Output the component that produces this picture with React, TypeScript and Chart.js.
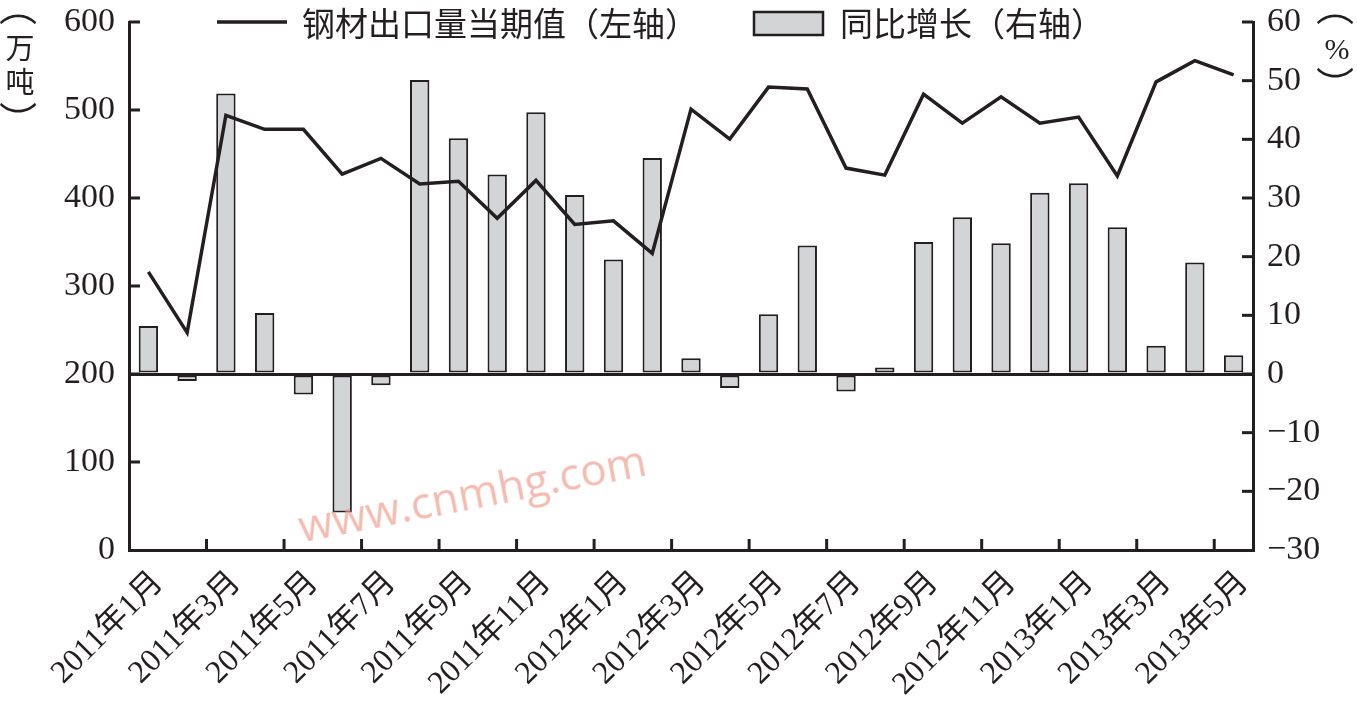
import React, { useEffect, useRef } from 'react';
import { Chart, registerables } from 'chart.js';

Chart.register(...registerables);

const months = [
  '2011年1月', '2011年2月', '2011年3月', '2011年4月', '2011年5月', '2011年6月',
  '2011年7月', '2011年8月', '2011年9月', '2011年10月', '2011年11月', '2011年12月',
  '2012年1月', '2012年2月', '2012年3月', '2012年4月', '2012年5月', '2012年6月',
  '2012年7月', '2012年8月', '2012年9月', '2012年10月', '2012年11月', '2012年12月',
  '2013年1月', '2013年2月', '2013年3月', '2013年4月', '2013年5月',
];

// 钢材出口量当期值（万吨，左轴）
const exportVolume = [
  316, 247, 494, 478, 478, 427, 445, 416, 419, 377, 420, 370, 374, 337,
  501, 467, 526, 524, 434, 426, 518, 485, 515, 485, 492, 425, 532, 556, 540,
];

// 同比增长（%，右轴）
const yoyGrowth = [
  8.2, -1.2, 47.8, 10.4, -3.5, -23.6, -1.9, 50.1, 40.2, 34.0, 44.6, 30.5, 19.5, 36.8,
  2.7, -2.4, 10.2, 21.9, -3.0, 1.1, 22.5, 26.7, 22.3, 30.9, 32.5, 25.0, 4.8, 19.0, 3.2,
];

const lineLabel = '钢材出口量当期值（左轴）';
const barLabel = '同比增长（右轴）';
const leftUnit = ['（', '万', '吨', '）'];
const rightUnit = ['（', '%', '）'];

const INK = '#231f20';
const BAR_FILL = '#d3d4d6';
const NUM_FONT = "'Liberation Serif', 'Noto Sans CJK SC', serif";
const CJK_FONT = "'Noto Sans CJK SC', 'Liberation Serif', serif";

const inwardTicks = {
  id: 'inwardTicks',
  afterDraw(chart: any) {
    const ctx = chart.ctx;
    const { left, right, bottom } = chart.chartArea;
    const ys = chart.scales.y;
    const yr = chart.scales.y1;
    const xs = chart.scales.x;
    ctx.save();
    ctx.strokeStyle = INK;
    ctx.lineWidth = 3;
    ctx.lineCap = 'butt';
    const seg = (x1: number, y1: number, x2: number, y2: number) => {
      ctx.beginPath();
      ctx.moveTo(x1, y1);
      ctx.lineTo(x2, y2);
      ctx.stroke();
    };
    ys.ticks.forEach((t: any) => {
      if (t.value === ys.min) return;
      const p = ys.getPixelForValue(t.value);
      seg(left, p, left + 11, p);
    });
    yr.ticks.forEach((t: any) => {
      if (t.value === yr.min) return;
      const p = yr.getPixelForValue(t.value);
      seg(right - 11, p, right, p);
    });
    for (let i = 2; i < xs.ticks.length; i += 2) {
      const p = (xs.getPixelForTick(i - 1) + xs.getPixelForTick(i)) / 2;
      seg(p, bottom, p, bottom - 11);
    }
    ctx.restore();
  },
};

const topLegend = {
  id: 'topLegend',
  afterDraw(chart: any) {
    const ctx = chart.ctx;
    const ds = chart.data.datasets;
    ctx.save();
    ctx.font = `33px ${CJK_FONT}`;
    ctx.textBaseline = 'middle';
    ctx.fillStyle = INK;
    ctx.strokeStyle = ds[0].borderColor;
    ctx.lineWidth = 3.5;
    ctx.beginPath();
    ctx.moveTo(217, 22);
    ctx.lineTo(287, 22);
    ctx.stroke();
    ctx.fillText(ds[0].label, 302, 23);
    ctx.fillStyle = ds[1].backgroundColor;
    ctx.fillRect(754, 12, 69, 23);
    ctx.strokeStyle = ds[1].borderColor;
    ctx.lineWidth = 2.5;
    ctx.strokeRect(754, 12, 69, 23);
    ctx.fillStyle = INK;
    ctx.fillText(ds[1].label, 840, 23);
    ctx.restore();
  },
};

const noPad = (s: any) => {
  s.paddingTop = 0;
  s.paddingBottom = 0;
};

function VChar({ ch, cx, cy, size, font, rotate }: { ch: string; cx: number; cy: number; size: number; font: string; rotate: number }) {
  return (
    <div
      style={{
        position: 'absolute', left: cx, top: cy, transform: `translate(-50%, -50%) rotate(${rotate}deg)`,
        fontFamily: font, fontSize: size, lineHeight: `${size}px`, color: INK, whiteSpace: 'nowrap',
      }}
    >
      {ch}
    </div>
  );
}

export default function App() {
  const ref = useRef<HTMLCanvasElement | null>(null);

  useEffect(() => {
    if (!ref.current) return;
    const chart = new Chart(ref.current, {
      type: 'bar',
      data: {
        labels: months,
        datasets: [
          {
            type: 'line',
            label: lineLabel,
            data: exportVolume,
            yAxisID: 'y',
            borderColor: INK,
            backgroundColor: INK,
            borderWidth: 3.5,
            pointRadius: 0,
            tension: 0,
            order: 0,
          } as any,
          {
            type: 'bar',
            label: barLabel,
            data: yoyGrowth,
            yAxisID: 'y1',
            backgroundColor: BAR_FILL,
            borderColor: INK,
            borderWidth: 2,
            borderSkipped: false,
            barPercentage: 0.5,
            categoryPercentage: 1,
            order: 1,
          } as any,
        ],
      },
      options: {
        responsive: false,
        animation: false,
        devicePixelRatio: 1,
        layout: { padding: { top: 22, left: 0, right: 0, bottom: 0 } },
        plugins: {
          legend: { display: false },
          tooltip: { enabled: false },
        },
        scales: {
          x: {
            offset: true,
            grid: { display: false, drawTicks: false },
            border: { display: true, color: INK, width: 3 },
            ticks: {
              autoSkip: false,
              maxRotation: 45,
              minRotation: 45,
              padding: 14,
              labelOffset: 10,
              color: INK,
              font: { family: NUM_FONT, size: 32 },
              callback: (_v: any, i: number) => (i % 2 === 0 ? months[i] : ''),
            },
            afterFit: (s: any) => {
              s.height = 156;
            },
          },
          y: {
            position: 'left',
            min: 0,
            max: 600,
            grid: { display: false, drawTicks: false },
            border: { display: true, color: INK, width: 3 },
            ticks: {
              stepSize: 100,
              padding: 14,
              color: INK,
              font: { family: NUM_FONT, size: 34 },
            },
            afterFit: (s: any) => {
              s.width = 129;
              noPad(s);
            },
          },
          y1: {
            position: 'right',
            min: -30,
            max: 60,
            grid: {
              display: true,
              drawOnChartArea: true,
              drawTicks: false,
              lineWidth: 3,
              color: (c: any) => (c.tick && c.tick.value === 0 ? INK : 'rgba(0,0,0,0)'),
            },
            border: { display: true, color: INK, width: 3 },
            ticks: {
              stepSize: 10,
              padding: 14,
              color: INK,
              font: { family: NUM_FONT, size: 34 },
              callback: (v: any) => (Number(v) < 0 ? '\u2212' + Math.abs(Number(v)) : String(v)),
            },
            afterFit: (s: any) => {
              s.width = 104;
              noPad(s);
            },
          },
        },
      } as any,
      plugins: [inwardTicks, topLegend],
    });
    return () => chart.destroy();
  }, []);

  return (
    <div style={{ position: 'fixed', left: 0, top: 0, width: 1357, height: 706, background: '#fff', overflow: 'hidden' }}>
      <canvas ref={ref} width={1357} height={706} style={{ position: 'absolute', left: 0, top: 0, width: 1357, height: 706 }} />
      <VChar ch={leftUnit[0]} cx={20} cy={7} size={38} font={CJK_FONT} rotate={90} />
      <VChar ch={leftUnit[1]} cx={20} cy={46} size={29} font={CJK_FONT} rotate={0} />
      <VChar ch={leftUnit[2]} cx={20} cy={80} size={29} font={CJK_FONT} rotate={0} />
      <VChar ch={leftUnit[3]} cx={20} cy={120} size={38} font={CJK_FONT} rotate={90} />
      <VChar ch={rightUnit[0]} cx={1337} cy={7} size={38} font={CJK_FONT} rotate={90} />
      <VChar ch={rightUnit[1]} cx={1337} cy={49} size={30} font={NUM_FONT} rotate={0} />
      <VChar ch={rightUnit[2]} cx={1337} cy={85} size={38} font={CJK_FONT} rotate={90} />
      <div
        style={{
          position: 'absolute', left: 472, top: 492, transform: 'translate(-50%, -50%) rotate(-11deg)',
          fontFamily: "'Open Sans', 'DejaVu Sans', sans-serif", fontSize: 44, color: 'rgba(240,150,135,0.65)',
          whiteSpace: 'nowrap',
        }}
      >
        www.cnmhg.com
      </div>
    </div>
  );
}
